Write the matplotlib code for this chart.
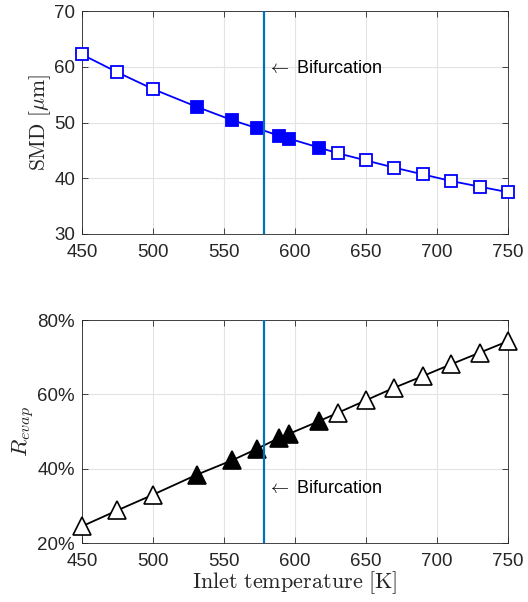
import matplotlib
matplotlib.use("Agg")
import matplotlib.pyplot as plt
from matplotlib.ticker import FuncFormatter

plt.rcParams['font.family'] = ['Liberation Sans', 'DejaVu Sans']
plt.rcParams['mathtext.fontset'] = 'cm'

# Data
temps = [450, 475, 500, 531, 556, 573, 589, 596, 617, 630, 650, 670, 690, 710, 730, 750]
smd = [62.2, 59.0, 56.0, 52.8, 50.4, 49.0, 47.6, 47.1, 45.5, 44.5, 43.2, 41.9, 40.7, 39.5, 38.5, 37.5]
revap = [24.5, 28.8, 33.0, 38.4, 42.3, 45.3, 48.3, 49.4, 52.8, 55.0, 58.4, 61.8, 64.9, 68.1, 71.2, 74.3]
filled = [False, False, False, True, True, True, True, True, True,
          False, False, False, False, False, False, False]
bifurcation_T = 578
bif_label = r'$\leftarrow$ Bifurcation'
xticks = [450, 500, 550, 600, 650, 700, 750]
smd_ticks = [30, 40, 50, 60, 70]
revap_ticks = [20, 40, 60, 80]

fig = plt.figure(figsize=(5.28, 6.02), dpi=100)
ax1 = fig.add_axes([0.1553, 0.6113, 0.8067, 0.3704])
ax2 = fig.add_axes([0.1553, 0.098, 0.8067, 0.3704])

def style(ax):
    ax.grid(True, color='#e3e3e3', linewidth=0.8)
    ax.set_axisbelow(True)
    ax.tick_params(direction='in', top=True, right=True, labelsize=13.5,
                   colors='#262626', length=4, width=0.6)
    ax.tick_params(axis='x', pad=7)
    ax.tick_params(axis='y', pad=5)
    for s in ax.spines.values():
        s.set_color('#262626')
        s.set_linewidth(0.6)
    ax.set_xlim(450, 750)
    ax.set_xticks(xticks)

# Top panel
style(ax1)
ax1.plot(temps, smd, '-', color='blue', lw=1.3, zorder=2)
for t, v, f in zip(temps, smd, filled):
    ax1.plot(t, v, 's', ms=9, mec='blue', mew=1.3,
             mfc='blue' if f else 'white', zorder=3, clip_on=False)
ax1.axvline(bifurcation_T, color='#0072BD', lw=1.6, zorder=4)
ax1.set_ylim(30, 70)
ax1.set_yticks(smd_ticks)
ax1.text(bifurcation_T + 2, 59.7, bif_label, fontsize=13, va='center', ha='left')
ax1.set_ylabel(r'$\mathrm{SMD}\ [\mu\mathrm{m}]$', fontsize=15.5, color='#262626', labelpad=1)

# Bottom panel
style(ax2)
ax2.plot(temps, revap, '-', color='black', lw=1.3, zorder=2)
for t, v, f in zip(temps, revap, filled):
    ax2.plot(t, v, '^', ms=12.5, mec='black', mew=1.2,
             mfc='black' if f else 'white', zorder=3, clip_on=False)
ax2.axvline(bifurcation_T, color='#0072BD', lw=1.6, zorder=4)
ax2.set_ylim(20, 80)
ax2.set_yticks(revap_ticks)
ax2.yaxis.set_major_formatter(FuncFormatter(lambda v, p: f'{v:.0f}%'))
ax2.text(bifurcation_T + 2, 34.6, bif_label, fontsize=13, va='center', ha='left')
ax2.set_ylabel(r'$R_{evap}$', fontsize=16.5, color='#262626', labelpad=0)
ax2.set_xlabel(r'$\mathrm{Inlet\ temperature\ [K]}$', fontsize=16, color='#262626', labelpad=0)

fig.savefig('out.png', dpi=100)
